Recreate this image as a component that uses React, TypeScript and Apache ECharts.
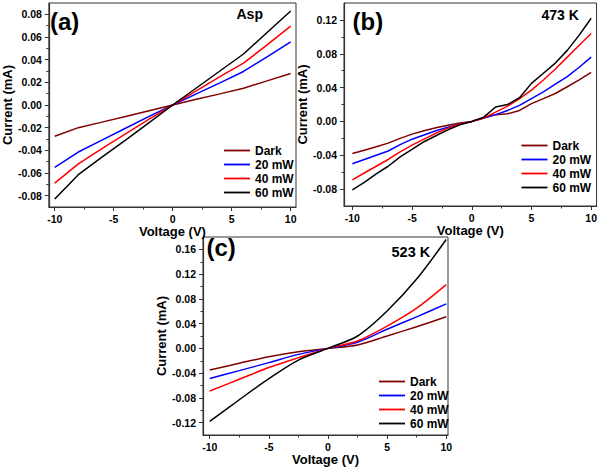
import React, { useEffect, useRef } from "react";
import * as echarts from "echarts";

// ---------- DATA ----------
const NAMES = ["Dark", "20 mW", "40 mW", "60 mW"];
const COLORS = ["#800000", "#0000ff", "#ff0000", "#000000"];

// Panel (a) Asp
const VA = [-10, -8, -6, -4, -2, 0, 2, 4, 6, 8, 10];
const A_DARK = [-0.0276, -0.020, -0.0151, -0.0101, -0.005, 0, 0.005, 0.0098, 0.0148, 0.0213, 0.0278];
const A_20 = [-0.055, -0.0415, -0.031, -0.0205, -0.010, 0, 0.0098, 0.0195, 0.0296, 0.0425, 0.0557];
const A_40 = [-0.069, -0.052, -0.0385, -0.0255, -0.0125, 0, 0.0125, 0.025, 0.037, 0.053, 0.0696];
const A_60 = [-0.083, -0.0615, -0.046, -0.031, -0.0155, 0, 0.015, 0.030, 0.045, 0.064, 0.083];

// Panel (b) 473 K
const VB = [-10, -9, -8, -7, -6, -5, -4, -3, -2, -1, 0, 1, 2, 3, 4, 5, 6, 7, 8, 9, 10];
const B_DARK = [-0.038, -0.034, -0.030, -0.0257, -0.020, -0.015, -0.011, -0.0075, -0.0045, -0.002, 0, 0.004, 0.008, 0.009, 0.013, 0.021, 0.027, 0.033, 0.041, 0.049, 0.058];
const B_20 = [-0.050, -0.045, -0.040, -0.035, -0.0275, -0.021, -0.016, -0.011, -0.007, -0.003, 0, 0.004, 0.008, 0.013, 0.019, 0.027, 0.035, 0.044, 0.053, 0.064, 0.076];
const B_40 = [-0.069, -0.061, -0.053, -0.045, -0.036, -0.028, -0.021, -0.014, -0.008, -0.003, 0, 0.004, 0.011, 0.018, 0.027, 0.037, 0.049, 0.062, 0.076, 0.090, 0.104];
const B_60 = [-0.081, -0.072, -0.062, -0.053, -0.042, -0.033, -0.024, -0.017, -0.010, -0.004, 0, 0.005, 0.017, 0.020, 0.028, 0.045, 0.057, 0.069, 0.084, 0.102, 0.122];

// Panel (c) 523 K
const VC = [-10, -7.5, -5, -2.5, 0, 2.5, 5, 7.5, 10];
const C_DARK = [-0.035, -0.024, -0.0135, -0.0054, 0, 0.0055, 0.020, 0.035, 0.051];
const C_20 = [-0.0486, -0.036, -0.023, -0.0097, 0, 0.010, 0.031, 0.051, 0.072];
const C_40 = [-0.069, -0.050, -0.031, -0.015, 0, 0.012, 0.036, 0.065, 0.103];
const C_60 = [-0.118, -0.083, -0.049, -0.019, 0, 0.020, 0.0605, 0.112, 0.176];

// Ticks
const X_MAJOR = [-10, -5, 0, 5, 10];
const X_MINOR = [-7.5, -2.5, 2.5, 7.5];
const YA_MAJOR = [-0.08, -0.06, -0.04, -0.02, 0, 0.02, 0.04, 0.06, 0.08];
const YA_MINOR = [-0.07, -0.05, -0.03, -0.01, 0.01, 0.03, 0.05, 0.07];
const YB_MAJOR = [-0.08, -0.04, 0, 0.04, 0.08, 0.12];
const YB_MINOR = [-0.06, -0.02, 0.02, 0.06, 0.1];
const YC_MAJOR = [-0.12, -0.08, -0.04, 0, 0.04, 0.08, 0.12, 0.16];
const YC_MINOR = [-0.1, -0.06, -0.02, 0.02, 0.06, 0.1, 0.14];

const FONT = "Liberation Sans, Arial, sans-serif";
const AX = "#333";

const panels = [
  { v: VA, ys: [A_DARK, A_20, A_40, A_60], smooth: false, xr: [-10.5, 10.45], yr: [-0.09, 0.09], yMaj: YA_MAJOR, yMin: YA_MINOR,
    grid: { left: 43, top: 3, width: 253, height: 204 }, legend: { left: 224, top: 143.5 }, yGap: 29 },
  { v: VB, ys: [B_DARK, B_20, B_40, B_60], smooth: false, xr: [-10.7, 10.45], yr: [-0.1, 0.14], yMaj: YB_MAJOR, yMin: YB_MINOR,
    grid: { left: 344, top: 3, width: 253, height: 203 }, legend: { left: 521.5, top: 138.5 }, yGap: 31 },
  { v: VC, ys: [C_DARK, C_20, C_40, C_60], smooth: 0.3, xr: [-10.57, 10.15], yr: [-0.14, 0.18], yMaj: YC_MAJOR, yMin: YC_MINOR,
    grid: { left: 203, top: 237, width: 245, height: 198 }, legend: { left: 379, top: 374.5 }, yGap: 34 },
];

const nameStyle = { fontFamily: FONT, fontWeight: "bold", fontSize: 13, color: "#000" };
const labStyle = { fontFamily: FONT, fontWeight: "bold", fontSize: 10.5, color: "#000" };

function buildOption() {
  const grid: any[] = [];
  const xAxis: any[] = [];
  const yAxis: any[] = [];
  const legend: any[] = [];
  const series: any[] = [];
  panels.forEach((p, i) => {
    grid.push({ ...p.grid, show: true, borderColor: AX, borderWidth: 1, backgroundColor: "transparent" });
    xAxis.push({
      type: "value", gridIndex: i, min: p.xr[0], max: p.xr[1], position: "bottom",
      axisLine: { show: true, onZero: false, lineStyle: { color: AX, width: 1.2 } },
      axisTick: { show: true, customValues: X_MAJOR, length: 4, lineStyle: { color: AX, width: 1 } },
      axisLabel: { customValues: X_MAJOR, ...labStyle, margin: 6 },
      splitLine: { show: false },
      name: "Voltage (V)", nameLocation: "middle", nameGap: 17, nameTextStyle: nameStyle,
    });
    xAxis.push({
      type: "value", gridIndex: i, min: p.xr[0], max: p.xr[1], position: "bottom",
      axisLine: { show: false, onZero: false },
      axisTick: { show: true, customValues: X_MINOR, length: 2.5, lineStyle: { color: AX, width: 1 } },
      axisLabel: { show: false }, splitLine: { show: false },
    });
    yAxis.push({
      type: "value", gridIndex: i, min: p.yr[0], max: p.yr[1], position: "left",
      axisLine: { show: true, onZero: false, lineStyle: { color: AX, width: 1.2 } },
      axisTick: { show: true, customValues: p.yMaj, length: 4, lineStyle: { color: AX, width: 1 } },
      axisLabel: { customValues: p.yMaj, ...labStyle, margin: 7, formatter: (v: number) => v.toFixed(2) },
      splitLine: { show: false },
      name: "Current (mA)", nameLocation: "middle", nameGap: p.yGap, nameTextStyle: nameStyle,
    });
    yAxis.push({
      type: "value", gridIndex: i, min: p.yr[0], max: p.yr[1], position: "left",
      axisLine: { show: false, onZero: false },
      axisTick: { show: true, customValues: p.yMin, length: 2.5, lineStyle: { color: AX, width: 1 } },
      axisLabel: { show: false }, splitLine: { show: false },
    });
    legend.push({
      orient: "vertical", left: p.legend.left, top: p.legend.top, padding: 0,
      icon: "rect", itemWidth: 26, itemHeight: 1.8, itemGap: 0,
      textStyle: { fontFamily: FONT, fontWeight: "bold", fontSize: 12, color: "#000", lineHeight: 14 },
      data: NAMES,
    });
    p.ys.forEach((ys, k) => {
      series.push({
        type: "line", name: NAMES[k], xAxisIndex: 2 * i, yAxisIndex: 2 * i,
        data: p.v.map((x, j) => [x, ys[j]]),
        symbol: "none", smooth: p.smooth,
        lineStyle: { color: COLORS[k], width: 1.5 }, itemStyle: { color: COLORS[k] },
      });
    });
  });

  const txt = (text: string, x: number, y: number, size: number) => ({
    type: "text", x, y, silent: true,
    style: { text, fontFamily: FONT, fontWeight: "bold", fontSize: size, fill: "#000", align: "left", verticalAlign: "middle" },
  });

  return {
    animation: false,
    grid, xAxis, yAxis, legend, series,
    graphic: [
      txt("(a)", 50, 21, 24),
      txt("Asp", 236.5, 14, 14),
      txt("(b)", 352.5, 21, 24),
      txt("473 K", 541.5, 15, 14),
      txt("(c)", 206.5, 247, 24),
      txt("523 K", 391.5, 251.5, 14.5),
    ],
  };
}

export default function App() {
  const ref = useRef<HTMLDivElement>(null);
  useEffect(() => {
    if (!ref.current) return;
    const chart = echarts.init(ref.current, undefined, { renderer: "svg" });
    chart.setOption(buildOption() as any);
    return () => chart.dispose();
  }, []);
  return (
    <div
      ref={ref}
      style={{ position: "absolute", left: 0, top: 0, width: 600, height: 467, background: "#fff" }}
    />
  );
}
